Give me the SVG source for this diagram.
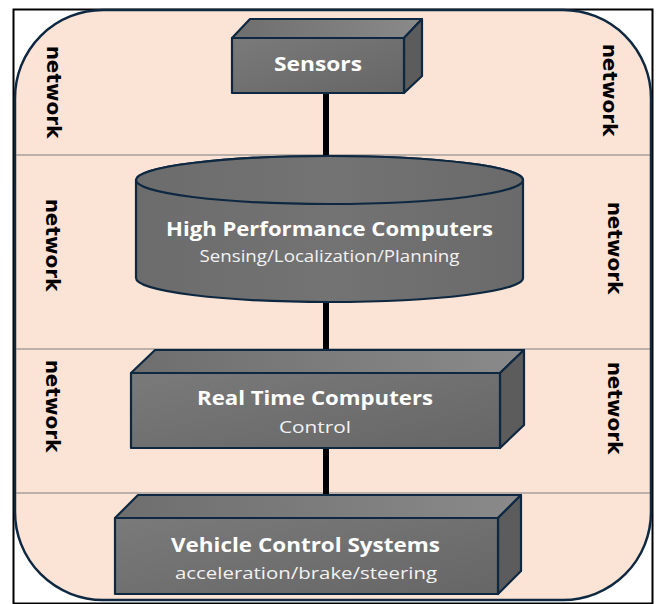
<svg xmlns="http://www.w3.org/2000/svg" width="656" height="604" viewBox="0 0 656 604">
  <defs>
    <linearGradient id="gFront" x1="0" y1="0" x2="1" y2="1">
      <stop offset="0" stop-color="#7a7a7a"/>
      <stop offset="1" stop-color="#666666"/>
    </linearGradient>
    <linearGradient id="gTop" x1="0" y1="0" x2="1" y2="0">
      <stop offset="0" stop-color="#6e6e6e"/>
      <stop offset="1" stop-color="#8a8a8a"/>
    </linearGradient>
    <linearGradient id="gCyl" x1="0" y1="0" x2="1" y2="0">
      <stop offset="0" stop-color="#6c6c6c"/>
      <stop offset="0.5" stop-color="#737373"/>
      <stop offset="1" stop-color="#6a6a6a"/>
    </linearGradient>
    <style>
      .face { fill: url(#gFront); stroke: #0e2841; stroke-width: 2.2; stroke-linejoin: round; }
      .top { fill: url(#gTop); stroke: #0e2841; stroke-width: 2.2; stroke-linejoin: round; }
      .side { fill: #5c5c5c; stroke: #0e2841; stroke-width: 2.2; stroke-linejoin: round; }
      .cyl { fill: url(#gCyl); stroke: #0e2841; stroke-width: 2.2; }
      .title { font-family: "Open Sans", "Liberation Sans", sans-serif; font-weight: 700; font-size: 19px; fill: #ffffff; text-anchor: middle; }
      .sub { font-family: "Open Sans", "Liberation Sans", sans-serif; font-weight: 400; font-size: 16.5px; fill: #f2f2f2; text-anchor: middle; }
      .net { font-family: "DejaVu Sans", sans-serif; font-weight: 700; font-size: 20px; fill: #000000; text-anchor: middle; }
      .div { stroke: #7f7f7f; stroke-width: 1.2; }
      .conn { stroke: #000000; stroke-width: 6; fill: none; }
    </style>
  </defs>

  <rect x="0" y="0" width="656" height="604" fill="#ffffff"/>
  <rect x="13.5" y="9.5" width="639" height="594" fill="#ffffff" stroke="#000000" stroke-width="2"/>

  <g id="background">
    <rect x="15" y="10" width="636" height="590" rx="88" ry="88" fill="#fbe3d6" stroke="#0e2841" stroke-width="2.5"/>
    <line class="div" x1="16" y1="155" x2="650" y2="155"/>
    <line class="div" x1="16" y1="349" x2="650" y2="349"/>
    <line class="div" x1="16" y1="493" x2="650" y2="493"/>
  </g>

  <g id="network-labels">
    <text class="net" transform="translate(47,92) rotate(90)">network</text>
    <text class="net" transform="translate(46,245) rotate(90)">network</text>
    <text class="net" transform="translate(46,406) rotate(90)">network</text>
    <text class="net" transform="translate(603,90) rotate(90)">network</text>
    <text class="net" transform="translate(608,248) rotate(90)">network</text>
    <text class="net" transform="translate(608,408) rotate(90)">network</text>
  </g>

  <g id="connectors">
    <line class="conn" x1="326" y1="93" x2="326" y2="160"/>
    <line class="conn" x1="326" y1="300" x2="326" y2="351"/>
    <line class="conn" x1="326" y1="447" x2="326" y2="496"/>
  </g>

  <g id="sensors">
    <polygon class="top" points="232,38 250,19 422,19 404,38"/>
    <polygon class="side" points="404,38 422,19 422,76 404,93"/>
    <rect class="face" x="232" y="38" width="172" height="55"/>
    <text class="title" x="318" y="71" font-size="21" textLength="88" lengthAdjust="spacingAndGlyphs">Sensors</text>
  </g>

  <g id="high-performance-computers">
    <path class="cyl" d="M136,180 A193.5,24 0 0 1 523,180 L523,278 A193.5,24 0 0 1 136,278 Z"/>
    <ellipse class="cyl" cx="329.5" cy="180" rx="193.5" ry="24"/>
    <text class="title" x="329.5" y="236" textLength="327" lengthAdjust="spacingAndGlyphs">High Performance Computers</text>
    <text class="sub" x="329.5" y="262" textLength="260" lengthAdjust="spacingAndGlyphs">Sensing/Localization/Planning</text>
  </g>

  <g id="real-time-computers">
    <polygon class="top" points="131,373 155,350 524,350 500,373"/>
    <polygon class="side" points="500,373 524,350 524,425 500,448"/>
    <rect class="face" x="131" y="373" width="369" height="75"/>
    <text class="title" x="315" y="405" textLength="236" lengthAdjust="spacingAndGlyphs">Real Time Computers</text>
    <text class="sub" x="315" y="433" textLength="72" lengthAdjust="spacingAndGlyphs">Control</text>
  </g>

  <g id="vehicle-control-systems">
    <polygon class="top" points="115,518 138,495 521,495 498,518"/>
    <polygon class="side" points="498,518 521,495 521,571 498,594"/>
    <rect class="face" x="115" y="518" width="383" height="76"/>
    <text class="title" x="305.5" y="552" textLength="269" lengthAdjust="spacingAndGlyphs">Vehicle Control Systems</text>
    <text class="sub" x="306" y="579" textLength="262" lengthAdjust="spacingAndGlyphs">acceleration/brake/steering</text>
  </g>
</svg>
